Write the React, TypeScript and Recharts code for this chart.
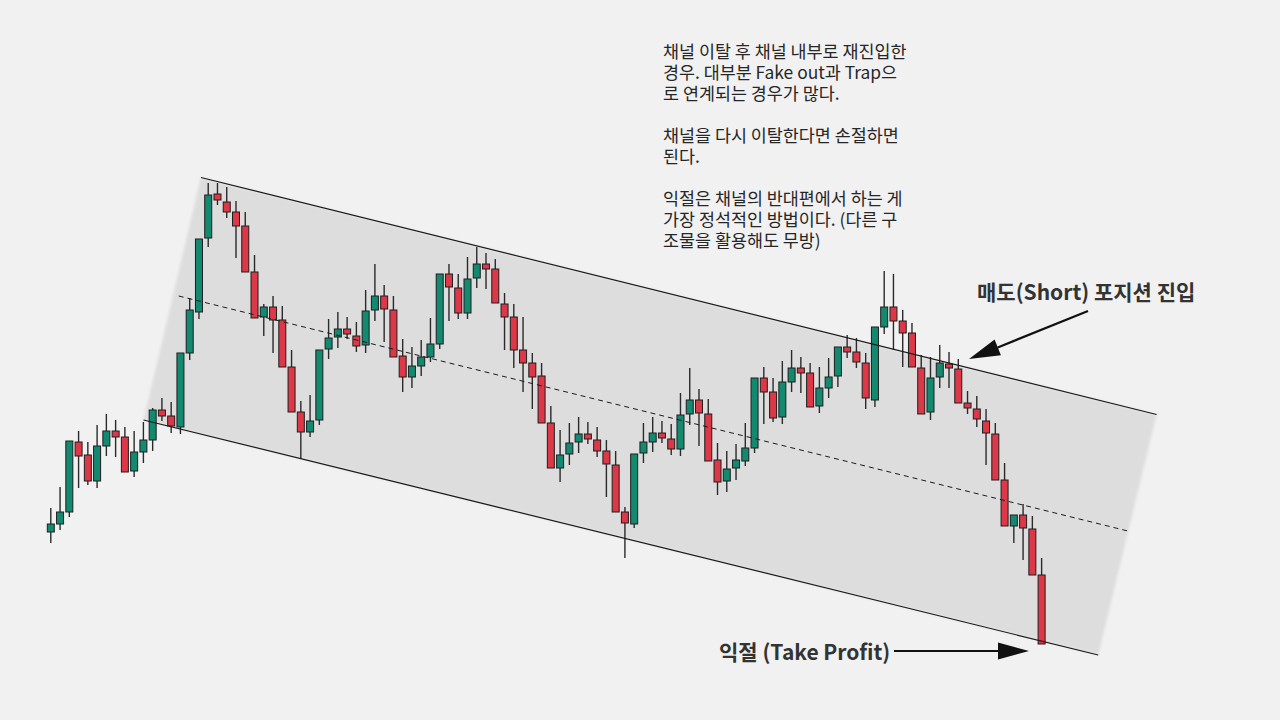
import { ComposedChart, Bar, Area, XAxis, YAxis, ReferenceLine } from 'recharts';

// OHLC, one entry per candle (left to right)
const opens = [
  188, 196, 208, 278, 265, 239, 274, 289, 283, 249, 268, 280, 310, 304, 293, 367, 408, 482, 526, 518,
  508, 494, 448, 403, 413, 400, 353, 308, 288, 300, 371, 383, 391, 384, 375, 410, 424, 410, 364, 343,
  354, 363, 376, 446, 432, 407, 442, 456, 451, 416, 403, 370, 357, 344, 297, 252, 266, 278, 286, 280,
  269, 255, 208, 196, 267, 278, 287, 281, 271, 306, 320, 306, 260, 239, 252, 259, 272, 342, 328, 303,
  338, 352, 347, 314, 332, 344, 373, 368, 357, 320, 393, 413, 399, 387, 352, 308, 343, 356, 351, 317,
  311, 299, 286, 240, 194, 205, 191, 145,
];
const highs = [
  212, 233, 279, 289, 278, 295, 306, 300, 293, 289, 298, 312, 322, 318, 367, 422, 481, 537, 537, 533,
  519, 508, 465, 416, 424, 414, 370, 319, 325, 370, 401, 408, 403, 398, 430, 456, 435, 424, 381, 373,
  380, 402, 446, 456, 446, 463, 473, 467, 461, 427, 416, 403, 367, 357, 314, 290, 297, 303, 298, 293,
  280, 269, 213, 266, 297, 303, 299, 296, 327, 352, 331, 321, 277, 269, 276, 297, 342, 353, 342, 359,
  370, 363, 357, 353, 362, 373, 385, 382, 367, 393, 449, 446, 410, 397, 365, 363, 375, 368, 361, 329,
  324, 311, 297, 257, 205, 216, 204, 162,
];
const lows = [
  177, 190, 203, 232, 235, 232, 264, 263, 248, 243, 257, 269, 299, 287, 286, 360, 401, 473, 515, 502,
  462, 448, 402, 384, 367, 353, 308, 261, 283, 295, 361, 372, 381, 368, 367, 399, 378, 363, 328, 332,
  344, 358, 371, 399, 401, 401, 432, 431, 417, 370, 352, 328, 311, 297, 252, 238, 255, 267, 276, 263,
  223, 208, 162, 192, 257, 268, 277, 265, 264, 295, 274, 259, 225, 228, 240, 254, 267, 296, 298, 296,
  328, 327, 313, 307, 322, 333, 362, 352, 311, 313, 386, 370, 353, 353, 306, 300, 332, 332, 317, 306,
  293, 255, 240, 194, 177, 160, 145, 76,
];
const closes = [
  196, 208, 279, 264, 239, 274, 289, 283, 248, 268, 280, 310, 304, 294, 367, 410, 481, 525, 520, 508,
  494, 448, 402, 413, 400, 353, 308, 288, 299, 370, 382, 391, 386, 374, 409, 424, 411, 363, 343, 354,
  363, 376, 446, 433, 407, 441, 456, 451, 417, 403, 370, 357, 343, 297, 252, 265, 277, 286, 281, 269,
  256, 208, 197, 266, 278, 287, 282, 271, 305, 320, 307, 259, 238, 251, 260, 272, 342, 328, 302, 338,
  352, 347, 313, 332, 343, 373, 368, 358, 322, 393, 413, 399, 387, 353, 306, 342, 357, 352, 317, 312,
  301, 287, 240, 194, 205, 192, 145, 76,
];

// channel drawn on the chart: (candle index, price)
const upperLine = [{ i: 16.2, p: 542.5 }, { i: 119.4, p: 305.5 }];
const lowerLine = [{ i: 10.0, p: 300 }, { i: 113.1, p: 65 }];
const midLine = [{ i: 13.8, p: 424 }, { i: 116.3, p: 189 }];

const noteLines = [
  '채널 이탈 후 채널 내부로 재진입한',
  '경우. 대부분 Fake out과 Trap으',
  '로 연계되는 경우가 많다.',
  '',
  '채널을 다시 이탈한다면 손절하면',
  '된다.',
  '',
  '익절은 채널의 반대편에서 하는 게',
  '가장 정석적인 방법이다. (다른 구',
  '조물을 활용해도 무방)',
];
const shortLabel = '매도(Short) 포지션 진입';
const profitLabel = '익절 (Take Profit)';

const GREEN = '#138a70';
const RED = '#dc3847';
const FONT = '"Noto Sans CJK KR", "Noto Sans", sans-serif';
const X_DOMAIN: [number, number] = [-5.5, 132.73];

const candles = opens.map((o, i) => ({ i, open: o, high: highs[i], low: lows[i], close: closes[i] }));

const at = (line: { i: number; p: number }[], i: number) =>
  line[0].p + ((line[1].p - line[0].p) * (i - line[0].i)) / (line[1].i - line[0].i);

const band = [
  { i: lowerLine[0].i, range: [lowerLine[0].p, lowerLine[0].p] },
  { i: upperLine[0].i, range: [at(lowerLine, upperLine[0].i), upperLine[0].p] },
  { i: lowerLine[1].i, range: [lowerLine[1].p, at(upperLine, lowerLine[1].i)] },
  { i: upperLine[1].i, range: [upperLine[1].p, upperLine[1].p] },
];

function Candle(props: any) {
  const { x, y, width, height, payload } = props;
  const { open, close, high, low } = payload;
  const top = Math.min(y, y + height);
  const h = Math.abs(height);
  const k = h / (high - low || 1);
  const cx = x + width / 2;
  const bodyTop = top + (high - Math.max(open, close)) * k;
  const bodyBot = top + (high - Math.min(open, close)) * k;
  return (
    <g>
      <line x1={cx} x2={cx} y1={top} y2={top + h} stroke="#2a2a2a" strokeWidth={1.4} />
      <rect
        x={x}
        y={bodyTop}
        width={width}
        height={Math.max(bodyBot - bodyTop, 1)}
        fill={close >= open ? GREEN : RED}
        stroke="#1e1e1e"
        strokeWidth={1}
      />
    </g>
  );
}

function Arrow({ x1, y1, x2, y2 }: { x1: number; y1: number; x2: number; y2: number }) {
  const a = Math.atan2(y2 - y1, x2 - x1);
  const len = 31;
  const hw = 8.5;
  const bx = x2 - len * Math.cos(a);
  const by = y2 - len * Math.sin(a);
  const px = -Math.sin(a) * hw;
  const py = Math.cos(a) * hw;
  return (
    <g>
      <line x1={x1} y1={y1} x2={bx} y2={by} stroke="#111" strokeWidth={2.2} />
      <polygon points={`${x2},${y2} ${bx + px},${by + py} ${bx - px},${by - py}`} fill="#111" />
    </g>
  );
}

export default function App() {
  return (
    <div style={{ position: 'absolute', left: 0, top: 0, width: 1280, height: 720, background: '#f1f1f1', overflow: 'hidden' }}>
      <ComposedChart width={1280} height={720} data={candles} margin={{ top: 0, right: 0, bottom: 0, left: 0 }}>
        <defs>
          <filter id="soft" x="-5%" y="-5%" width="110%" height="110%">
            <feGaussianBlur stdDeviation="1.6" />
          </filter>
        </defs>
        <XAxis xAxisId="c" type="number" dataKey="i" domain={X_DOMAIN} allowDataOverflow hide />
        <XAxis xAxisId="ch" type="number" dataKey="i" domain={X_DOMAIN} allowDataOverflow hide />
        <YAxis type="number" domain={[0, 720]} allowDataOverflow hide />
        <Area
          xAxisId="ch"
          data={band}
          dataKey="range"
          type="linear"
          stroke="none"
          fill="#dddddd"
          fillOpacity={1}
          dot={false}
          activeDot={false}
          isAnimationActive={false}
          style={{ filter: 'url(#soft)' }}
        />
        <ReferenceLine
          xAxisId="ch"
          segment={[{ x: upperLine[0].i, y: upperLine[0].p }, { x: upperLine[1].i, y: upperLine[1].p }]}
          stroke="#1a1a1a"
          strokeWidth={1.2}
        />
        <ReferenceLine
          xAxisId="ch"
          segment={[{ x: lowerLine[0].i, y: lowerLine[0].p }, { x: lowerLine[1].i, y: lowerLine[1].p }]}
          stroke="#1a1a1a"
          strokeWidth={1.2}
        />
        <ReferenceLine
          xAxisId="ch"
          segment={[{ x: midLine[0].i, y: midLine[0].p }, { x: midLine[1].i, y: midLine[1].p }]}
          stroke="#1a1a1a"
          strokeWidth={1}
          strokeDasharray="5 4"
        />
        <Bar
          xAxisId="c"
          dataKey={(d: any) => [d.low, d.high]}
          barSize={7}
          shape={<Candle />}
          isAnimationActive={false}
        />
      </ComposedChart>

      <div style={{ position: 'absolute', left: 663, top: 40, fontFamily: FONT, fontSize: 17.4, color: '#262626', whiteSpace: 'pre' }}>
        {noteLines.map((t, k) => (
          <div key={k} style={{ height: 21, lineHeight: '21px' }}>{t}</div>
        ))}
      </div>
      <div style={{ position: 'absolute', left: 977, top: 276, fontFamily: FONT, fontSize: 21, fontWeight: 700, color: '#333', whiteSpace: 'pre', lineHeight: '30px' }}>
        {shortLabel}
      </div>
      <div style={{ position: 'absolute', left: 719, top: 636, fontFamily: FONT, fontSize: 21, fontWeight: 700, color: '#333', whiteSpace: 'pre', lineHeight: '30px' }}>
        {profitLabel}
      </div>
      <svg width={1280} height={720} style={{ position: 'absolute', left: 0, top: 0, pointerEvents: 'none' }}>
        <Arrow x1={1088} y1={311} x2={969} y2={359} />
        <Arrow x1={894} y1={651} x2={1029} y2={651} />
      </svg>
    </div>
  );
}
